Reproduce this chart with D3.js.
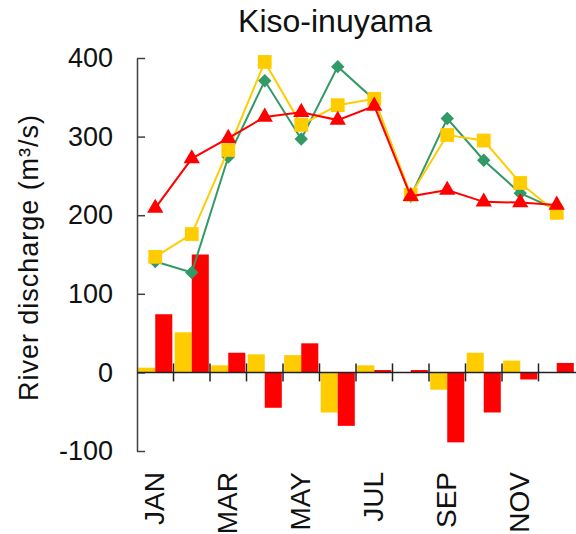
<!DOCTYPE html>
<html>
<head>
<meta charset="utf-8">
<script src="https://cdn.jsdelivr.net/npm/d3@7"></script>
<style>
  html, body { margin: 0; padding: 0; background: #fff; }
  svg { display: block; font-family: "Liberation Sans", Arial, sans-serif; }
</style>
</head>
<body>
<svg id="chart" width="576" height="534"></svg>
<script>
// ---- data ----
const months = ["JAN","FEB","MAR","APR","MAY","JUN","JUL","AUG","SEP","OCT","NOV","DEC"];
const monthLabels = ["JAN","MAR","MAY","JUL","SEP","NOV"];
const yTicks = [-100, 0, 100, 200, 300, 400];
const greenLine  = [141, 127, 274, 371, 297, 389, 347, 224, 323, 270, 228, 207];
const yellowLine = [147, 176, 283, 395, 315, 340, 348, 226, 302, 295, 241, 203];
const redLine    = [209, 272, 298, 325, 331, 321, 339, 224, 232, 217, 216, 213];
const yellowBars = [6, 51, 9, 23, 22, -51, 9, 0, -22, 25, 15, 0];
const redBars    = [74, 150, 25, -45, 37, -68, 3, 3, -89, -51, -9, 12];

const colors = { yellow: "#FFCC00", red: "#FF0000", green: "#339966", axis: "#404040" };

const svg = d3.select("#chart");
const x = d3.scaleBand().domain(months).range([137, 575]).padding(0);
const y = d3.scaleLinear().domain([-100, 400]).range([451, 58]);
const xs = d3.scaleBand().domain(["y","r"]).range([0, x.bandwidth()]).paddingInner(0).paddingOuter(0.07);

// title
svg.append("text").attr("x", 335).attr("y", 32).attr("text-anchor", "middle")
  .attr("font-size", 32).attr("fill", "#111").text("Kiso-inuyama");

// y label
svg.append("text")
  .attr("transform", "translate(38,258) rotate(-90)")
  .attr("text-anchor", "middle").attr("font-size", 27).attr("fill", "#111")
  .attr("textLength", 286).attr("lengthAdjust", "spacing")
  .text("River discharge (m³/s)");

// bars
const barData = months.map((m, i) => ({ m, yv: yellowBars[i], rv: redBars[i] }));
const g = svg.append("g");
barData.forEach(d => {
  [["y", d.yv, colors.yellow], ["r", d.rv, colors.red]].forEach(([k, v, c]) => {
    if (v === 0) return;
    g.append("rect")
      .attr("x", x(d.m) + xs(k))
      .attr("width", xs.bandwidth())
      .attr("y", y(Math.max(0, v)))
      .attr("height", Math.abs(y(v) - y(0)))
      .attr("fill", c);
  });
});

// y axis (ticks pointing inward)
const yAxis = d3.axisLeft(y).tickValues(yTicks).tickFormat(d => String(d))
  .tickSizeInner(-8).tickSizeOuter(0).tickPadding(24);
const ya = svg.append("g").attr("transform", "translate(137,0)").call(yAxis);
ya.select(".domain").attr("stroke", colors.axis).attr("stroke-width", 1.5);
ya.selectAll(".tick line").attr("stroke", colors.axis).attr("stroke-width", 1.5);
ya.selectAll(".tick text").attr("font-size", 27).attr("fill", "#111")
  .attr("font-family", "Liberation Sans, Arial, sans-serif");

// zero line with month-boundary ticks
const y0 = y(0);
svg.append("line").attr("x1", 137).attr("x2", 576).attr("y1", y0).attr("y2", y0)
  .attr("stroke", "#222").attr("stroke-width", 1.5);
months.slice(1).forEach(m => {
  svg.append("line").attr("x1", x(m)).attr("x2", x(m)).attr("y1", y0 - 9).attr("y2", y0 + 9)
    .attr("stroke", "#222").attr("stroke-width", 1.5);
});

// month labels
monthLabels.forEach(m => {
  const cx = x(m) + x.bandwidth() / 2;
  svg.append("text")
    .attr("transform", `translate(${cx - 1},472) rotate(-90)`)
    .attr("text-anchor", "end").attr("dy", "0.36em")
    .attr("font-size", 28).attr("fill", "#111").text(m);
});

// lines + markers
const line = d3.line().x((d, i) => x(months[i]) + x.bandwidth() / 2).y(d => y(d));
function series(vals, color, sym, size, rot) {
  svg.append("path").datum(vals).attr("d", line).attr("fill", "none")
    .attr("stroke", color).attr("stroke-width", 2);
  svg.append("g").selectAll("path").data(vals).join("path")
    .attr("d", d3.symbol().type(sym).size(size))
    .attr("transform", (d, i) => `translate(${x(months[i]) + x.bandwidth() / 2},${y(d)}) rotate(${rot})`)
    .attr("fill", color);
}
series(greenLine, colors.green, d3.symbolSquare, 90, 45);
series(yellowLine, colors.yellow, d3.symbolSquare, 190, 0);
series(redLine, colors.red, d3.symbolTriangle, 115, 0);
</script>
</body>
</html>
